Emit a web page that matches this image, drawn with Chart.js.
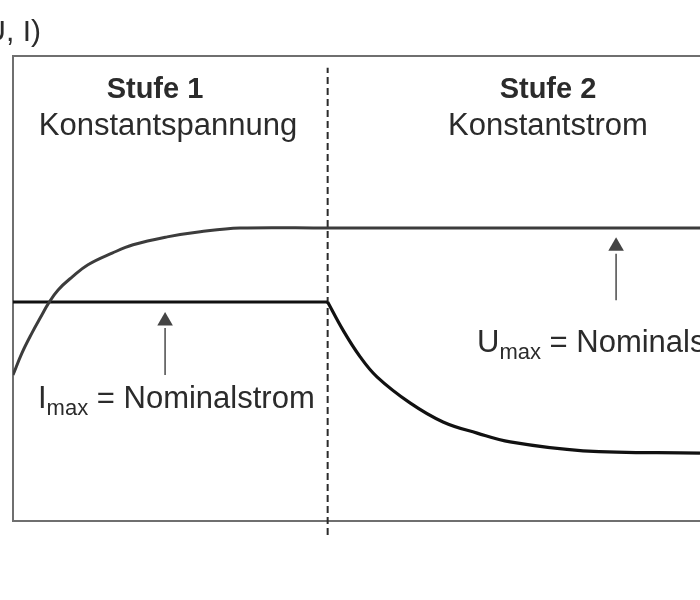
<!DOCTYPE html>
<html>
<head>
<meta charset="utf-8">
<script src="https://cdn.jsdelivr.net/npm/chart.js@4.4.0/dist/chart.umd.min.js"></script>
<style>
  html, body { margin: 0; padding: 0; background: #fff; overflow: hidden; }
  #chart { display: block; }
</style>
</head>
<body>
<canvas id="chart" width="700" height="600"></canvas>
<script>
// charging phases (time in arbitrary units, values in % of scale)
var phaseBoundary = 60;
var timeMax = 131;

// voltage U (grey curve)
var voltageT = [0, 1.7, 3.6, 5.5, 6.7, 8.6, 11.3, 14.3, 18.9, 22.9, 29.4, 35.7, 43.3, 60, 131];
var voltageU = [31.4, 36.1, 40.4, 44.3, 46.7, 49.7, 52.5, 55.1, 57.6, 59.4, 61.1, 62.2, 63.0, 63.0, 63.0];

// current I (black curve): plateau in Stufe 1, decay in Stufe 2
var currentPlateauT = [0, 60];
var currentPlateauI = [47.1, 47.1];
var currentDecayT = [60, 62.9, 66.2, 69.4, 75.7, 82.0, 88.5, 94.8, 108.7, 131];
var currentDecayI = [47.1, 41.1, 35.3, 31.0, 25.4, 21.3, 18.9, 17.0, 15.1, 14.6];

// arrows pointing at the curves
var arrowImaxT = 29;
var arrowImax = [31.4, 41.5, 43.0];   // shaft bottom, shaft top, head
var arrowUmaxT = 115;
var arrowUmax = [47.5, 57.5, 59.1];

function pts(xs, ys) {
  return xs.map(function (x, i) { return { x: x, y: ys[i] }; });
}

var font = '"Liberation Sans", Arial, sans-serif';
var textColor = '#2b2b2b';

var labelsPlugin = {
  id: 'labels',
  afterDatasetsDraw: function (chart) {
    var ctx = chart.ctx;
    ctx.save();
    ctx.fillStyle = textColor;
    ctx.textBaseline = 'alphabetic';

    // axis label, cropped at the left
    ctx.font = '30px ' + font;
    ctx.textAlign = 'right';
    ctx.fillText('(U, I)', 41, 41);

    ctx.textAlign = 'center';
    ctx.font = 'bold 29px ' + font;
    ctx.fillText('Stufe 1', 155, 98);
    ctx.fillText('Stufe 2', 548, 98);
    ctx.font = '31px ' + font;
    ctx.fillText('Konstantspannung', 168, 135);
    ctx.fillText('Konstantstrom', 548, 135);

    function subLabel(main, sub, rest, x, y) {
      ctx.textAlign = 'left';
      ctx.font = '31px ' + font;
      ctx.fillText(main, x, y);
      x += ctx.measureText(main).width;
      ctx.font = '22px ' + font;
      ctx.fillText(sub, x, y + 7);
      x += ctx.measureText(sub).width;
      ctx.font = '31px ' + font;
      ctx.fillText(rest, x, y);
    }
    subLabel('I', 'max', ' = Nominalstrom', 38, 408);
    subLabel('U', 'max', ' = Nominalspannung', 477, 352);
    ctx.restore();
  }
};

var ctx = document.getElementById('chart').getContext('2d');
new Chart(ctx, {
  type: 'line',
  data: {
    datasets: [
      {
        data: pts(voltageT, voltageU),
        borderColor: '#3c3c3c',
        borderWidth: 3,
        pointRadius: 0,
        tension: 0.4
      },
      {
        data: pts(currentPlateauT, currentPlateauI),
        borderColor: '#111',
        borderWidth: 3.2,
        pointRadius: 0
      },
      {
        data: pts(currentDecayT, currentDecayI),
        borderColor: '#111',
        borderWidth: 3.2,
        pointRadius: 0,
        tension: 0.4
      },
      {
        // phase separator
        data: [{ x: phaseBoundary, y: -3 }, { x: phaseBoundary, y: 97.5 }],
        borderColor: '#2b2b2b',
        borderWidth: 2,
        borderDash: [7, 4],
        pointRadius: 0,
        clip: false
      },
      {
        data: [{ x: arrowImaxT, y: arrowImax[0] }, { x: arrowImaxT, y: arrowImax[1] }],
        borderColor: '#555',
        borderWidth: 1.6,
        pointRadius: 0
      },
      {
        data: [{ x: arrowImaxT, y: arrowImax[2] }],
        showLine: false,
        pointStyle: 'triangle',
        pointRadius: 9,
        backgroundColor: '#444',
        borderColor: '#444',
        borderWidth: 0
      },
      {
        data: [{ x: arrowUmaxT, y: arrowUmax[0] }, { x: arrowUmaxT, y: arrowUmax[1] }],
        borderColor: '#555',
        borderWidth: 1.6,
        pointRadius: 0
      },
      {
        data: [{ x: arrowUmaxT, y: arrowUmax[2] }],
        showLine: false,
        pointStyle: 'triangle',
        pointRadius: 9,
        backgroundColor: '#444',
        borderColor: '#444',
        borderWidth: 0
      }
    ]
  },
  options: {
    responsive: false,
    animation: false,
    events: [],
    layout: { autoPadding: false, padding: { left: 13, top: 56, right: 0, bottom: 79 } },
    plugins: { legend: { display: false }, tooltip: { enabled: false } },
    scales: {
      x: {
        type: 'linear', position: 'bottom', min: 0, max: timeMax,
        ticks: { display: false },
        grid: { display: false, drawTicks: false },
        border: { display: true, color: '#6f6f6f', width: 2 }
      },
      xTop: {
        type: 'linear', position: 'top', min: 0, max: timeMax,
        ticks: { display: false },
        grid: { display: false, drawTicks: false },
        border: { display: true, color: '#6f6f6f', width: 2 }
      },
      y: {
        type: 'linear', min: 0, max: 100,
        ticks: { display: false },
        grid: { display: false, drawTicks: false },
        border: { display: true, color: '#6f6f6f', width: 2 }
      }
    }
  },
  plugins: [labelsPlugin]
});
</script>
</body>
</html>
